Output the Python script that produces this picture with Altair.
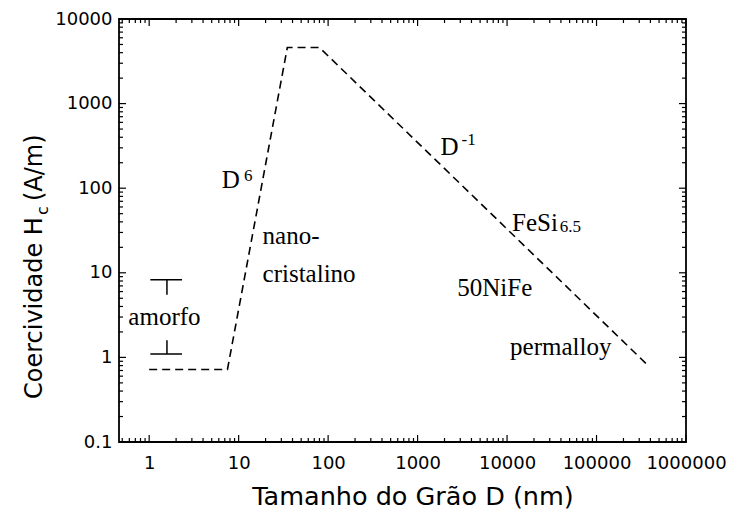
import altair as alt
import pandas as pd

# ---------------- data ----------------
curve_D = [1, 7.5, 35, 80, 360000]
curve_H = [0.72, 0.72, 4600, 4600, 0.84]

x_major = [1, 10, 100, 1000, 10000, 100000, 1000000]
y_major = [0.1, 1, 10, 100, 1000, 10000]
minor_factors = [2, 3, 4, 5, 6, 7, 8, 9]
x_decades = [0.1, 1, 10, 100, 1000, 10000, 100000]
y_decades = [0.1, 1, 10, 100, 1000]

# amorphous range bar (caps and stems)
cap_H = [8.25, 1.10]
cap_D_left = [1.03, 1.03]
cap_D_right = [2.33, 2.33]
stem_D = [1.58, 1.58]
stem_H_from = [8.25, 1.10]
stem_H_to = [5.5, 1.6]

# annotations
ann_text = ["amorfo", "nano-", "cristalino", "D", "D", "FeSi", "50NiFe", "permalloy"]
ann_D = [0.585, 18.5, 18.5, 6.47, 1800, 11370, 2780, 10800]
ann_H = [2.39, 21.7, 7.8, 100, 244, 31.6, 5.36, 1.07]

small_text = ["6", "-1", "6.5"]
small_D = [11.5, 3100, 38800]
small_H = [123, 322, 30]

x_title = "Tamanho do Grão D (nm)"
y_title_parts = ["Coercividade H", "c", "(A/m)"]

# ---------------- chart ----------------
W, H = 567, 423
XDOM = [0.46, 1000000]
YDOM = [0.1, 10000]
xs = alt.Scale(type="log", domain=XDOM, nice=False)
ys = alt.Scale(type="log", domain=YDOM, nice=False)

x_minor = [f * d for d in x_decades for f in minor_factors if XDOM[0] <= f * d <= XDOM[1]]
y_minor = [f * d for d in y_decades for f in minor_factors]

curve = alt.Chart(pd.DataFrame({"D": curve_D, "H": curve_H})).mark_line(
    color="black", strokeDash=[8, 5], strokeWidth=1.6
).encode(
    x=alt.X("D:Q", scale=xs, title=x_title,
            axis=alt.Axis(values=x_major, format="~f", labelPadding=12,
                          labelFlush=False, labelOverlap=False,
                          titlePadding=12, titleFontSize=25.5, titleX=W / 2 + 10)),
    y=alt.Y("H:Q", scale=ys, title=None,
            axis=alt.Axis(values=y_major, format="~f", labelPadding=7,
                          labelFlush=False, labelOverlap=False)),
)

caps = alt.Chart(pd.DataFrame({"a": cap_D_left, "b": cap_D_right, "h": cap_H})).mark_rule(
    color="black", strokeWidth=1.5
).encode(x=alt.X("a:Q", scale=xs), x2="b:Q", y=alt.Y("h:Q", scale=ys))

stems = alt.Chart(pd.DataFrame({"d": stem_D, "h1": stem_H_from, "h2": stem_H_to})).mark_rule(
    color="black", strokeWidth=1.5
).encode(x=alt.X("d:Q", scale=xs), y=alt.Y("h1:Q", scale=ys), y2="h2:Q")

ann = alt.Chart(pd.DataFrame({"t": ann_text, "D": ann_D, "H": ann_H})).mark_text(
    font="Liberation Serif", fontSize=25, align="left", baseline="alphabetic", color="black"
).encode(x=alt.X("D:Q", scale=xs), y=alt.Y("H:Q", scale=ys), text="t:N")

small = alt.Chart(pd.DataFrame({"t": small_text, "D": small_D, "H": small_H})).mark_text(
    font="Liberation Serif", fontSize=17, align="left", baseline="alphabetic", color="black"
).encode(x=alt.X("D:Q", scale=xs), y=alt.Y("H:Q", scale=ys), text="t:N")


def ticks(vals, axis, side, length):
    base = alt.Chart(pd.DataFrame({"v": vals})).mark_rule(color="black", strokeWidth=1.2)
    if axis == "x":
        y0 = H if side == "bottom" else 0
        y1 = H - length if side == "bottom" else length
        return base.encode(x=alt.X("v:Q", scale=xs), y=alt.value(y0), y2=alt.value(y1))
    x0 = 0 if side == "left" else W
    x1 = length if side == "left" else W - length
    return base.encode(y=alt.Y("v:Q", scale=ys), x=alt.value(x0), x2=alt.value(x1))


tick_layers = []
for side in ["bottom", "top"]:
    tick_layers.append(ticks(x_major, "x", side, 7))
    tick_layers.append(ticks(x_minor, "x", side, 4))
for side in ["left", "right"]:
    tick_layers.append(ticks(y_major, "y", side, 7))
    tick_layers.append(ticks(y_minor, "y", side, 4))

# y title, built from pieces so that the "c" can be a subscript
ytx = -77
yt_main = alt.Chart(pd.DataFrame({"t": [y_title_parts[0]]})).mark_text(
    font="DejaVu Sans", fontSize=24, angle=270, align="left", baseline="alphabetic", color="black"
).encode(text="t:N", x=alt.value(ytx), y=alt.value(380))
yt_sub = alt.Chart(pd.DataFrame({"t": [y_title_parts[1]]})).mark_text(
    font="DejaVu Sans", fontSize=16, angle=270, align="left", baseline="alphabetic", color="black"
).encode(text="t:N", x=alt.value(ytx + 6), y=alt.value(196))
yt_end = alt.Chart(pd.DataFrame({"t": [y_title_parts[2]]})).mark_text(
    font="DejaVu Sans", fontSize=24, angle=270, align="left", baseline="alphabetic", color="black"
).encode(text="t:N", x=alt.value(ytx), y=alt.value(182))

chart = alt.layer(
    curve, caps, stems, ann, small, *tick_layers, yt_main, yt_sub, yt_end
).properties(
    width=W, height=H,
    autosize=alt.AutoSizeParams(type="none"),
    padding={"left": 111, "top": 11, "right": 40, "bottom": 67},
).configure_view(
    stroke="black", strokeWidth=1.8
).configure_axis(
    grid=False, ticks=False, domain=False,
    labelFont="DejaVu Sans", labelFontSize=18, labelColor="black",
    titleFont="DejaVu Sans", titleFontWeight="normal", titleColor="black",
)

chart.save("out.html", embed_options={"renderer": "svg", "actions": False})
